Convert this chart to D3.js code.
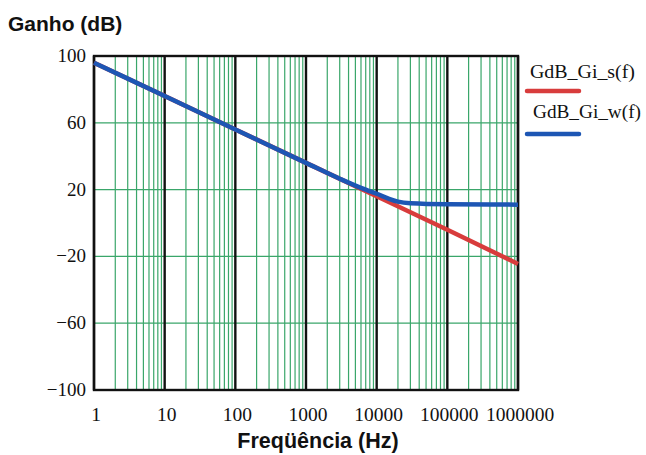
<!DOCTYPE html>
<html>
<head>
<meta charset="utf-8">
<script src="https://cdn.jsdelivr.net/npm/d3@7"></script>
<style>
  body { margin: 0; background: #fff; }
  svg { display: block; }
</style>
</head>
<body>
<svg id="chart" width="646" height="455"></svg>
<script>
// values
const freqS = [1, 10, 100, 1000, 10000, 100000, 1000000];
const gainS = [96, 76, 56, 36, 16, -4, -24.5];

const freqW = [1, 10, 100, 1000, 3000, 6000, 10000, 15000, 20000, 30000, 100000, 1000000];
const gainW = [96, 76, 56, 36, 26.5, 21, 17.5, 14.5, 12.8, 11.8, 11.2, 11];

const seriesNames = ["GdB_Gi_s(f)", "GdB_Gi_w(f)"];
const seriesColors = ["#d83c3c", "#1d56b4"];
const yTicks = [100, 60, 20, -20, -60, -100];
const xTicks = [1, 10, 100, 1000, 10000, 100000, 1000000];

const svg = d3.select("#chart");
const plotL = 94, plotR = 518, plotT = 56, plotB = 390;

const x = d3.scaleLog().domain([1, 1e6]).range([plotL, plotR]);
const y = d3.scaleLinear().domain([-100, 100]).range([plotB, plotT]);

const green = "#3aa66a";

// minor vertical lines
const minor = [];
for (let d = 1; d < 1e6; d *= 10) {
  for (let k = 2; k <= 9; k++) minor.push(d * k);
}
svg.append("g").selectAll("line").data(minor).join("line")
  .attr("x1", d => x(d)).attr("x2", d => x(d))
  .attr("y1", plotT).attr("y2", plotB)
  .attr("stroke", green).attr("stroke-width", 1.2);

// horizontal grid
svg.append("g").selectAll("line").data(yTicks.slice(1, -1)).join("line")
  .attr("x1", plotL).attr("x2", plotR)
  .attr("y1", d => y(d)).attr("y2", d => y(d))
  .attr("stroke", green).attr("stroke-width", 1.2);

// decade lines
svg.append("g").selectAll("line").data(xTicks).join("line")
  .attr("x1", d => x(d)).attr("x2", d => x(d))
  .attr("y1", plotT).attr("y2", plotB)
  .attr("stroke", "#111").attr("stroke-width", 2.4);

svg.append("rect")
  .attr("x", plotL).attr("y", plotT)
  .attr("width", plotR - plotL).attr("height", plotB - plotT)
  .attr("fill", "none").attr("stroke", "#111").attr("stroke-width", 2.4);

// curves
const line = d3.line().x(d => x(d[0])).y(d => y(d[1]));
const dataS = freqS.map((f, i) => [f, gainS[i]]);
const dataW = freqW.map((f, i) => [f, gainW[i]]);

svg.append("path").datum(dataS).attr("d", line)
  .attr("fill", "none").attr("stroke", seriesColors[0]).attr("stroke-width", 4.5);
svg.append("path").datum(dataW).attr("d", line.curve(d3.curveMonotoneX))
  .attr("fill", "none").attr("stroke", seriesColors[1]).attr("stroke-width", 4.5);

// axis labels
const serif = "'Liberation Serif', 'Times New Roman', serif";
const sans = "'Liberation Sans', Arial, sans-serif";

svg.append("g").selectAll("text").data(yTicks).join("text")
  .attr("x", 86).attr("y", d => y(d) + 6)
  .attr("text-anchor", "end")
  .attr("font-family", serif).attr("font-size", 19).attr("fill", "#111")
  .text(d => d < 0 ? "\u2212" + Math.abs(d) : d);

svg.append("g").selectAll("text").data(xTicks).join("text")
  .attr("x", d => x(d) + 2).attr("y", 421)
  .attr("text-anchor", "middle")
  .attr("font-family", serif).attr("font-size", 19.5).attr("fill", "#111")
  .text(d => d);

svg.append("text").attr("x", 8).attr("y", 31)
  .attr("font-family", sans).attr("font-weight", "bold").attr("font-size", 21)
  .attr("fill", "#111").text("Ganho (dB)");

svg.append("text").attr("x", 318).attr("y", 448)
  .attr("text-anchor", "middle")
  .attr("font-family", sans).attr("font-weight", "bold").attr("font-size", 21.5)
  .attr("fill", "#111").text("Freqüência (Hz)");

// legend
const legend = svg.append("g").selectAll("g").data(seriesNames).join("g");
legend.append("text")
  .attr("x", (d, i) => 530 + i * 3).attr("y", (d, i) => 78 + i * 40)
  .attr("font-family", serif).attr("font-size", 19.5).attr("fill", "#111")
  .attr("textLength", (d, i) => i ? 108 : 105)
  .attr("lengthAdjust", "spacingAndGlyphs")
  .text(d => d);
legend.append("line")
  .attr("x1", 527).attr("x2", 579)
  .attr("y1", (d, i) => 91 + i * 43).attr("y2", (d, i) => 91 + i * 43)
  .attr("stroke", (d, i) => seriesColors[i]).attr("stroke-width", 4.5)
  .attr("stroke-linecap", "round");
</script>
</body>
</html>
